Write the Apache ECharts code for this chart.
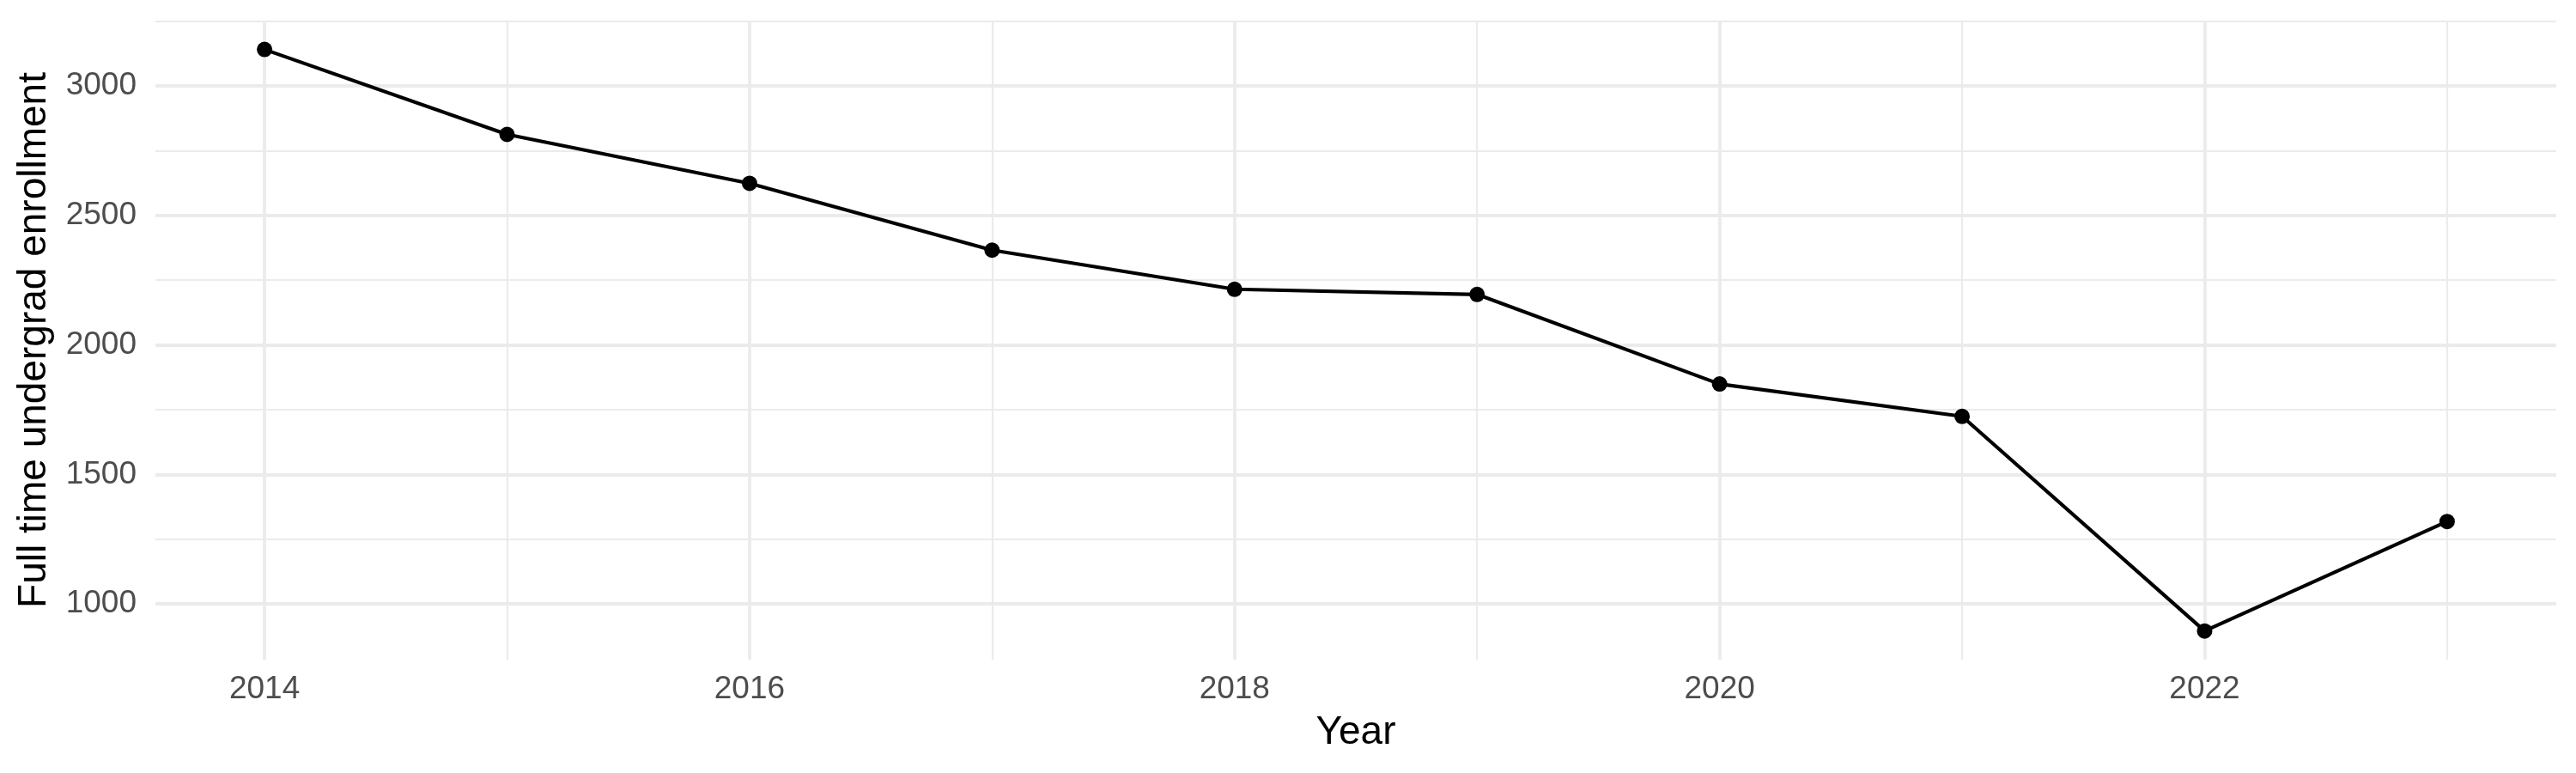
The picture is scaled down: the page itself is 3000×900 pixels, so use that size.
<!DOCTYPE html>
<html>
<head>
<meta charset="utf-8">
<script src="https://cdn.jsdelivr.net/npm/echarts@6/dist/echarts.min.js"></script>
<style>
html,body{margin:0;padding:0;background:#fff;}
#chart{width:3000px;height:900px;}
</style>
</head>
<body>
<div id="chart"></div>
<script>
const years = [2014, 2015, 2016, 2017, 2018, 2019, 2020, 2021, 2022, 2023];
const enrollment = [3141, 2813, 2624, 2366, 2215, 2195, 1849, 1724, 895, 1318];
const xMajorTicks = [2014, 2016, 2018, 2020, 2022];
const xMinorTicks = [2015, 2017, 2019, 2021, 2023];
const yMajorTicks = [1000, 1500, 2000, 2500, 3000];
const yMinorTicks = [1250, 1750, 2250, 2750, 3250];

const GRID = '#EBEBEB';
const pts = years.map((y, i) => [y, enrollment[i]]);

const gridLines = []
  .concat(yMinorTicks.map(v => ({yAxis: v, lineStyle: {color: GRID, width: 2.2, type: 'solid'}})))
  .concat(xMinorTicks.map(v => ({xAxis: v, lineStyle: {color: GRID, width: 2.2, type: 'solid'}})))
  .concat(yMajorTicks.map(v => ({yAxis: v, lineStyle: {color: GRID, width: 3.8, type: 'solid'}})))
  .concat(xMajorTicks.map(v => ({xAxis: v, lineStyle: {color: GRID, width: 3.8, type: 'solid'}})));

const chart = echarts.init(document.getElementById('chart'), null, {renderer: 'canvas'});
chart.setOption({
  animation: false,
  backgroundColor: '#ffffff',
  textStyle: {fontFamily: 'Liberation Sans'},
  grid: {left: 181, right: 23, top: 24, bottom: 132, containLabel: false},
  xAxis: {
    type: 'value',
    min: 2013.55,
    max: 2023.45,
    name: 'Year',
    nameLocation: 'middle',
    nameGap: 62,
    nameTextStyle: {fontSize: 46, color: '#000000', fontFamily: 'Liberation Sans'},
    axisLine: {show: false},
    axisTick: {show: false},
    splitLine: {show: false},
    axisLabel: {
      customValues: xMajorTicks,
      fontSize: 37,
      color: '#4D4D4D',
      margin: 16,
      fontFamily: 'Liberation Sans',
      formatter: v => String(v)
    }
  },
  yAxis: {
    type: 'value',
    min: 784.5,
    max: 3252.5,
    name: 'Full time undergrad enrollment',
    nameLocation: 'middle',
    nameGap: 118,
    nameTextStyle: {fontSize: 46, color: '#000000', fontFamily: 'Liberation Sans'},
    axisLine: {show: false},
    axisTick: {show: false},
    splitLine: {show: false},
    axisLabel: {
      customValues: yMajorTicks,
      fontSize: 37,
      color: '#4D4D4D',
      margin: 22,
      fontFamily: 'Liberation Sans',
      formatter: v => String(v)
    }
  },
  series: [
    {
      type: 'line',
      data: pts,
      z: 1,
      symbol: 'none',
      silent: true,
      lineStyle: {opacity: 0},
      markLine: {
        silent: true,
        symbol: ['none', 'none'],
        label: {show: false},
        animation: false,
        data: gridLines
      }
    },
    {
      type: 'line',
      data: pts,
      z: 5,
      symbol: 'circle',
      symbolSize: 18,
      itemStyle: {color: '#000000'},
      lineStyle: {color: '#000000', width: 4.2},
      silent: true
    }
  ]
});
</script>
</body>
</html>
